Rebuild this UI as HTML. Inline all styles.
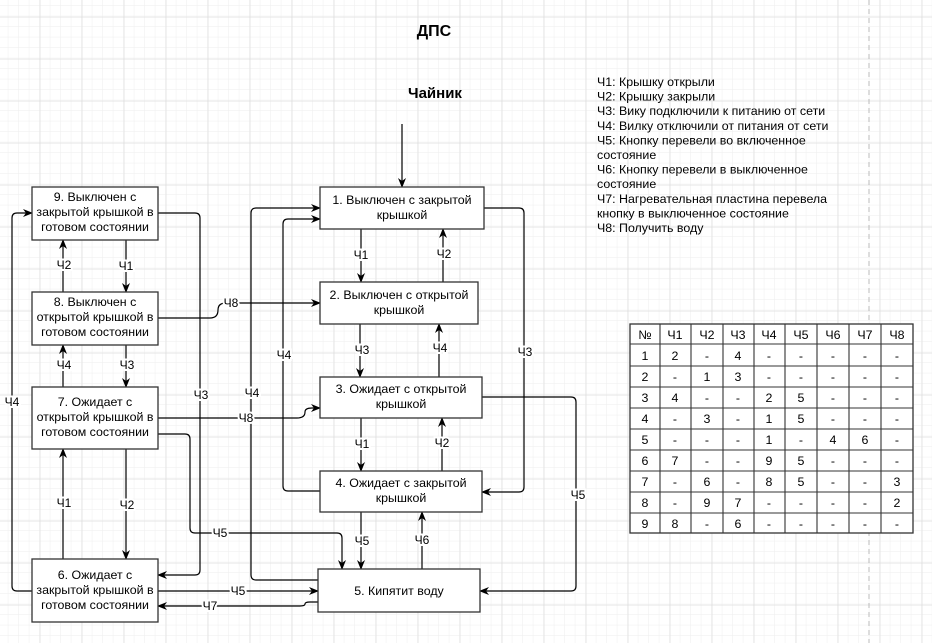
<!DOCTYPE html>
<html><head><meta charset="utf-8"><style>
html,body{margin:0;padding:0;background:#fff;}
svg{display:block;font-family:"Liberation Sans",Arial,sans-serif;}
</style></head><body>
<svg width="932" height="643" viewBox="0 0 932 643" xmlns="http://www.w3.org/2000/svg">
<defs>
<pattern id="minor" x="-2.2" y="-4.7" width="10.5" height="10.5" patternUnits="userSpaceOnUse">
<path d="M10.5 0V10.5M0 10.5H10.5" stroke="#eeeeee" stroke-width="1" fill="none"/>
</pattern>
<pattern id="major" x="-1.7" y="-24.7" width="42" height="42" patternUnits="userSpaceOnUse">
<path d="M42 0V42M0 42H42" stroke="#d6d6d6" stroke-width="1" fill="none"/>
</pattern>
<marker id="a" markerWidth="10" markerHeight="10" refX="9" refY="5" orient="auto" markerUnits="userSpaceOnUse">
<path d="M0,1 L10,5 L0,9 L3,5 z" fill="#000"/>
</marker>
</defs>
<rect width="932" height="643" fill="#fff"/>
<rect width="932" height="643" fill="url(#minor)"/>
<rect width="932" height="643" fill="url(#major)"/>
<line x1="869" y1="0" x2="869" y2="643" stroke="#bbb" stroke-dasharray="5,4" stroke-width="1"/>

<text x="434" y="36" font-size="16" font-weight="bold" text-anchor="middle">ДПС</text>
<text x="435" y="98" font-size="15" font-weight="bold" text-anchor="middle">Чайник</text>

<g fill="none" stroke="#000" stroke-width="1.2">
<line x1="402" y1="124" x2="402" y2="187" marker-end="url(#a)"/>
<line x1="126" y1="240" x2="126" y2="292" marker-end="url(#a)"/>
<line x1="63" y1="292" x2="63" y2="240" marker-end="url(#a)"/>
<line x1="126" y1="345" x2="126" y2="387" marker-end="url(#a)"/>
<line x1="63" y1="387" x2="63" y2="345" marker-end="url(#a)"/>
<line x1="126" y1="449" x2="126" y2="559" marker-end="url(#a)"/>
<line x1="63" y1="559" x2="63" y2="449" marker-end="url(#a)"/>
<path d="M32 591 H17 Q12 591 12 586 V218 Q12 213 17 213 H32" marker-end="url(#a)"/>
<path d="M158 213 H195 Q200 213 200 218 V570 Q200 575 195 575 H158" marker-end="url(#a)"/>
<path d="M158 318 H210 Q218 318 218 310 Q218 303 226 303 H320" marker-end="url(#a)"/>
<path d="M158 418 H297 Q305 418 305 412 Q305 408 312 408 H320" marker-end="url(#a)"/>
<path d="M158 434 H185 Q190 434 190 439 V528 Q190 533 195 533 H337 Q342 533 342 538 V569" marker-end="url(#a)"/>
<line x1="158" y1="591" x2="318" y2="591" marker-end="url(#a)"/>
<path d="M318 602 H310 Q305 602 305 604 Q305 606 300 606 H158" marker-end="url(#a)"/>
<path d="M318 580 H256 Q251 580 251 575 V213 Q251 208 256 208 H320" marker-end="url(#a)"/>
<path d="M320 491 H288 Q283 491 283 486 V224 Q283 219 288 219 H320" marker-end="url(#a)"/>
<line x1="361" y1="229" x2="361" y2="282" marker-end="url(#a)"/>
<line x1="443" y1="282" x2="443" y2="229" marker-end="url(#a)"/>
<line x1="360" y1="324" x2="360" y2="377" marker-end="url(#a)"/>
<line x1="439" y1="377" x2="439" y2="324" marker-end="url(#a)"/>
<line x1="361" y1="418" x2="361" y2="471" marker-end="url(#a)"/>
<line x1="442" y1="471" x2="442" y2="418" marker-end="url(#a)"/>
<line x1="361" y1="512" x2="361" y2="569" marker-end="url(#a)"/>
<line x1="422" y1="569" x2="422" y2="512" marker-end="url(#a)"/>
<path d="M484 208 H519 Q524 208 524 213 V487 Q524 492 519 492 H482" marker-end="url(#a)"/>
<path d="M482 397 H571 Q576 397 576 402 V586 Q576 591 571 591 H480" marker-end="url(#a)"/>
</g>

<g fill="#fff" stroke="#333" stroke-width="1.3">
<rect x="32" y="187" width="126" height="53"/>
<rect x="32" y="292" width="126" height="53"/>
<rect x="32" y="387" width="126" height="62"/>
<rect x="32" y="559" width="126" height="63"/>
<rect x="320" y="187" width="164" height="42"/>
<rect x="320" y="282" width="158" height="42"/>
<rect x="320" y="377" width="162" height="41"/>
<rect x="320" y="471" width="162" height="41"/>
<rect x="318" y="569" width="162" height="43"/>
</g>

<g font-size="12.4" text-anchor="middle" fill="#000">
<text x="95" y="201">9. Выключен с</text><text x="95" y="216">закрытой крышкой в</text><text x="95" y="231">готовом состоянии</text>
<text x="95" y="306">8. Выключен с</text><text x="95" y="321">открытой крышкой в</text><text x="95" y="336">готовом состоянии</text>
<text x="95" y="406">7. Ожидает с</text><text x="95" y="421">открытой крышкой в</text><text x="95" y="436">готовом состоянии</text>
<text x="95" y="579">6. Ожидает с</text><text x="95" y="594">закрытой крышкой в</text><text x="95" y="609">готовом состоянии</text>
<text x="402" y="204">1. Выключен с закрытой</text><text x="402" y="219">крышкой</text>
<text x="399" y="299">2. Выключен с открытой</text><text x="399" y="314">крышкой</text>
<text x="401" y="393">3. Ожидает с открытой</text><text x="401" y="408">крышкой</text>
<text x="401" y="487">4. Ожидает с закрытой</text><text x="401" y="502">крышкой</text>
<text x="399" y="595">5. Кипятит воду</text>
</g>

<g font-size="12" text-anchor="middle" fill="#000" stroke="#fff" stroke-width="4" paint-order="stroke">
<text x="64" y="269">Ч2</text><text x="126" y="270">Ч1</text>
<text x="64" y="369">Ч4</text><text x="127" y="369">Ч3</text>
<text x="64" y="507">Ч1</text><text x="127" y="509">Ч2</text>
<text x="12" y="406">Ч4</text><text x="201" y="399">Ч3</text>
<text x="231" y="307">Ч8</text><text x="252" y="397">Ч4</text><text x="284" y="359">Ч4</text>
<text x="246" y="422">Ч8</text><text x="220" y="537">Ч5</text>
<text x="238" y="595">Ч5</text><text x="210" y="610">Ч7</text>
<text x="361" y="259">Ч1</text><text x="444" y="258">Ч2</text>
<text x="362" y="354">Ч3</text><text x="440" y="352">Ч4</text>
<text x="362" y="448">Ч1</text><text x="442" y="447">Ч2</text>
<text x="362" y="545">Ч5</text><text x="422" y="544">Ч6</text>
<text x="525" y="356">Ч3</text><text x="578" y="499">Ч5</text>
</g>

<g font-size="12.4" fill="#000">
<text x="597" y="86">Ч1: Крышку открыли</text>
<text x="597" y="100.6">Ч2: Крышку закрыли</text>
<text x="597" y="115.2">Ч3: Вику подключили к питанию от сети</text>
<text x="597" y="129.8">Ч4: Вилку отключили от питания от сети</text>
<text x="597" y="144.4">Ч5: Кнопку перевели во включенное</text>
<text x="597" y="159">состояние</text>
<text x="597" y="173.6">Ч6: Кнопку перевели в выключенное</text>
<text x="597" y="188.2">состояние</text>
<text x="597" y="202.8">Ч7: Нагревательная пластина перевела</text>
<text x="597" y="217.4">кнопку в выключенное состояние</text>
<text x="597" y="232">Ч8: Получить воду</text>
</g>

<g>
<rect x="630" y="324" width="283" height="209" fill="#fff" stroke="#333" stroke-width="1.3"/>
<g stroke="#333" stroke-width="1.1">
<line x1="660" y1="324" x2="660" y2="533"/><line x1="691" y1="324" x2="691" y2="533"/>
<line x1="723" y1="324" x2="723" y2="533"/><line x1="754" y1="324" x2="754" y2="533"/>
<line x1="785" y1="324" x2="785" y2="533"/><line x1="817" y1="324" x2="817" y2="533"/>
<line x1="849" y1="324" x2="849" y2="533"/><line x1="881" y1="324" x2="881" y2="533"/>
<line x1="630" y1="344" x2="913" y2="344"/><line x1="630" y1="366" x2="913" y2="366"/>
<line x1="630" y1="387" x2="913" y2="387"/><line x1="630" y1="408" x2="913" y2="408"/>
<line x1="630" y1="429" x2="913" y2="429"/><line x1="630" y1="450" x2="913" y2="450"/>
<line x1="630" y1="471" x2="913" y2="471"/><line x1="630" y1="492" x2="913" y2="492"/>
<line x1="630" y1="513" x2="913" y2="513"/>
</g>
<g font-size="12.4" text-anchor="middle" fill="#000">
<text y="339"><tspan x="645">№</tspan><tspan x="675">Ч1</tspan><tspan x="707">Ч2</tspan><tspan x="738">Ч3</tspan><tspan x="769">Ч4</tspan><tspan x="801">Ч5</tspan><tspan x="833">Ч6</tspan><tspan x="865">Ч7</tspan><tspan x="897">Ч8</tspan></text>
<text y="360"><tspan x="645">1</tspan><tspan x="675">2</tspan><tspan x="707">-</tspan><tspan x="738">4</tspan><tspan x="769">-</tspan><tspan x="801">-</tspan><tspan x="833">-</tspan><tspan x="865">-</tspan><tspan x="897">-</tspan></text>
<text y="381"><tspan x="645">2</tspan><tspan x="675">-</tspan><tspan x="707">1</tspan><tspan x="738">3</tspan><tspan x="769">-</tspan><tspan x="801">-</tspan><tspan x="833">-</tspan><tspan x="865">-</tspan><tspan x="897">-</tspan></text>
<text y="402"><tspan x="645">3</tspan><tspan x="675">4</tspan><tspan x="707">-</tspan><tspan x="738">-</tspan><tspan x="769">2</tspan><tspan x="801">5</tspan><tspan x="833">-</tspan><tspan x="865">-</tspan><tspan x="897">-</tspan></text>
<text y="423"><tspan x="645">4</tspan><tspan x="675">-</tspan><tspan x="707">3</tspan><tspan x="738">-</tspan><tspan x="769">1</tspan><tspan x="801">5</tspan><tspan x="833">-</tspan><tspan x="865">-</tspan><tspan x="897">-</tspan></text>
<text y="444"><tspan x="645">5</tspan><tspan x="675">-</tspan><tspan x="707">-</tspan><tspan x="738">-</tspan><tspan x="769">1</tspan><tspan x="801">-</tspan><tspan x="833">4</tspan><tspan x="865">6</tspan><tspan x="897">-</tspan></text>
<text y="465"><tspan x="645">6</tspan><tspan x="675">7</tspan><tspan x="707">-</tspan><tspan x="738">-</tspan><tspan x="769">9</tspan><tspan x="801">5</tspan><tspan x="833">-</tspan><tspan x="865">-</tspan><tspan x="897">-</tspan></text>
<text y="486"><tspan x="645">7</tspan><tspan x="675">-</tspan><tspan x="707">6</tspan><tspan x="738">-</tspan><tspan x="769">8</tspan><tspan x="801">5</tspan><tspan x="833">-</tspan><tspan x="865">-</tspan><tspan x="897">3</tspan></text>
<text y="507"><tspan x="645">8</tspan><tspan x="675">-</tspan><tspan x="707">9</tspan><tspan x="738">7</tspan><tspan x="769">-</tspan><tspan x="801">-</tspan><tspan x="833">-</tspan><tspan x="865">-</tspan><tspan x="897">2</tspan></text>
<text y="528"><tspan x="645">9</tspan><tspan x="675">8</tspan><tspan x="707">-</tspan><tspan x="738">6</tspan><tspan x="769">-</tspan><tspan x="801">-</tspan><tspan x="833">-</tspan><tspan x="865">-</tspan><tspan x="897">-</tspan></text>
</g>
</g>
</svg>
</body></html>
